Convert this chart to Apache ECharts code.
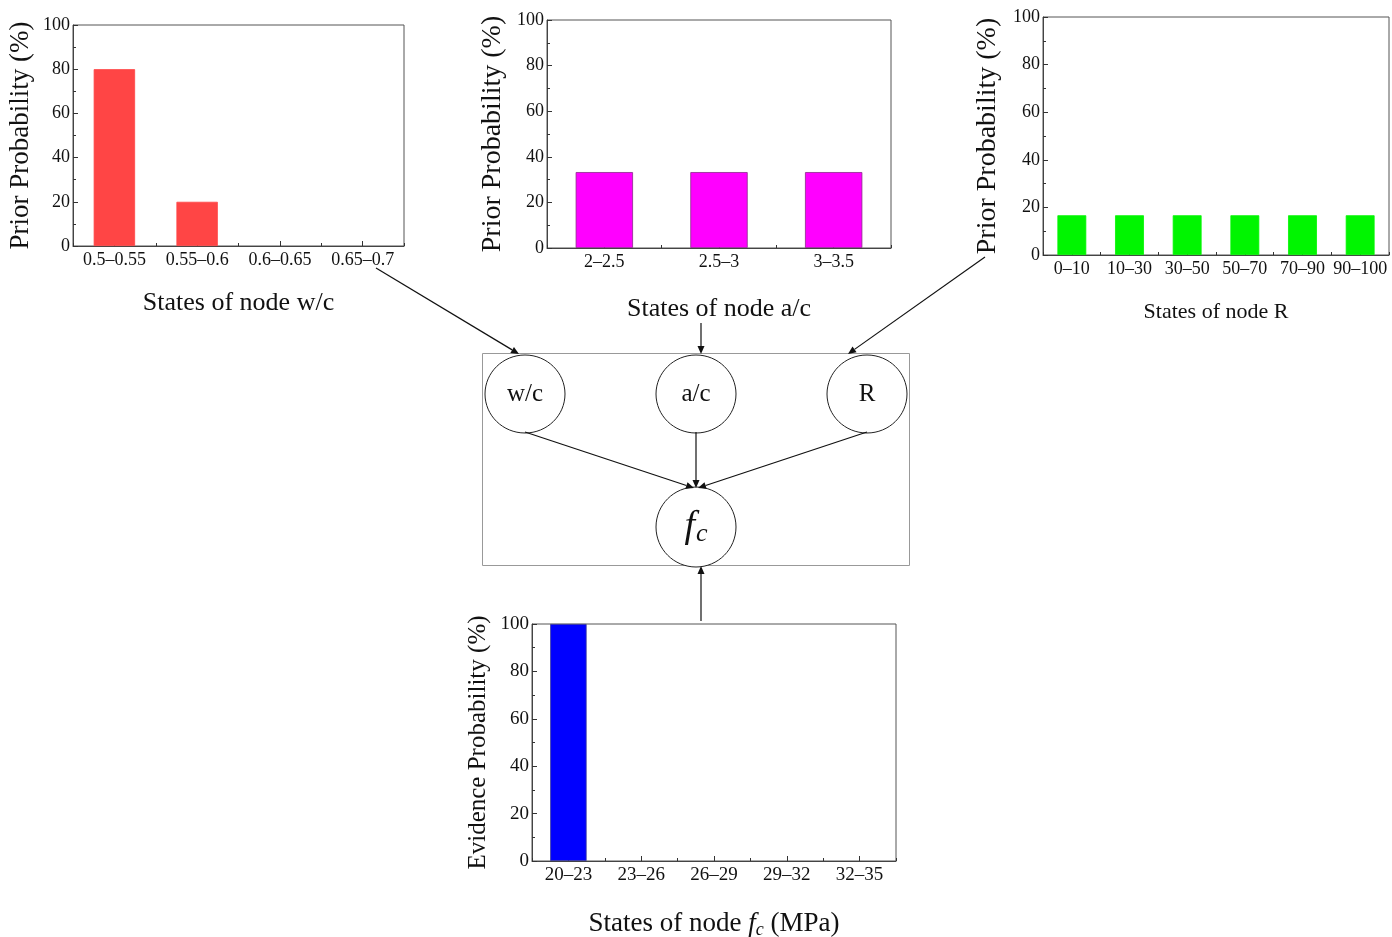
<!DOCTYPE html>
<html>
<head>
<meta charset="utf-8">
<script src="https://cdn.jsdelivr.net/npm/echarts@6/dist/echarts.min.js"></script>
<style>html,body{margin:0;padding:0;background:#fff;}#c{width:1392px;height:937px;}</style>
</head>
<body>
<div id="c"></div>
<script>
// ---- data ----
const wcCategories = ['0.5\u20130.55', '0.55\u20130.6', '0.6\u20130.65', '0.65\u20130.7'];
const wcValues = [80, 20, 0, 0];
const acCategories = ['2\u20132.5', '2.5\u20133', '3\u20133.5'];
const acValues = [33.3, 33.3, 33.3];
const rCategories = ['0\u201310', '10\u201330', '30\u201350', '50\u201370', '70\u201390', '90\u2013100'];
const rValues = [16.7, 16.7, 16.7, 16.7, 16.7, 16.7];
const fcCategories = ['20\u201323', '23\u201326', '26\u201329', '29\u201332', '32\u201335'];
const fcValues = [100, 0, 0, 0, 0];
const yTicks = [0, 20, 40, 60, 80, 100];

const FONT = 'Liberation Serif';
const chart = echarts.init(document.getElementById('c'));

const panels = [
  {cats: wcCategories, vals: wcValues, color: '#FF4545', border: '#FF4545',
   grid: {left: 73, top: 25, width: 331, height: 221},
   yName: 'Prior Probability (%)', yNameSize: 27, yGap: 39,
   xName: 'States of node w/c', xNameSize: 26, xGap: 44, tickSize: 18},
  {cats: acCategories, vals: acValues, color: '#FF00FF', border: '#8a2a8a',
   grid: {left: 547, top: 20, width: 344, height: 228},
   yName: 'Prior Probability (%)', yNameSize: 28, yGap: 40,
   xName: 'States of node a/c', xNameSize: 26, xGap: 48, tickSize: 18},
  {cats: rCategories, vals: rValues, color: '#00F500', border: '#00F500',
   grid: {left: 1043, top: 17, width: 346, height: 238},
   yName: 'Prior Probability (%)', yNameSize: 28, yGap: 41,
   xName: 'States of node R', xNameSize: 22, xGap: 46, tickSize: 18},
  {cats: fcCategories, vals: fcValues, color: '#0000FF', border: '#333399',
   grid: {left: 532, top: 624, width: 364, height: 237},
   yName: 'Evidence Probability (%)', yNameSize: 25, yGap: 41,
   xName: '{a|States of node }{f|f}{s|c}{a| (MPa)}', xNameSize: 27, xGap: 47, tickSize: 19, rich: true}
];

const grids = [], xAxes = [], yAxes = [], series = [];
panels.forEach((p, i) => {
  grids.push(Object.assign({show: true, borderColor: '#555', borderWidth: 1, backgroundColor: 'transparent',
    containLabel: false, outerBoundsMode: 'none'}, p.grid));
  const nameStyle = p.rich ? {
    fontFamily: FONT, fontSize: p.xNameSize, color: '#111',
    rich: {
      a: {fontFamily: FONT, fontSize: p.xNameSize, color: '#111'},
      f: {fontFamily: FONT, fontSize: p.xNameSize, fontStyle: 'italic', color: '#111'},
      s: {fontFamily: FONT, fontSize: 18, fontStyle: 'italic', color: '#111', padding: [13, 0, 0, 0]}
    }
  } : {fontFamily: FONT, fontSize: p.xNameSize, color: '#111'};
  xAxes.push({
    type: 'category', gridIndex: i, data: p.cats, position: 'bottom',
    axisLine: {show: true, lineStyle: {color: '#444', width: 1}},
    axisTick: {show: true, inside: true, length: 5, alignWithLabel: true, lineStyle: {color: '#333'}},
    axisLabel: {fontFamily: FONT, fontSize: p.tickSize, color: '#111', margin: 5, interval: 0},
    name: p.xName, nameLocation: 'middle', nameGap: p.xGap, nameTextStyle: nameStyle,
    splitLine: {show: false}
  });
  xAxes.push({
    type: 'category', gridIndex: i, data: p.cats, position: 'bottom', offset: 0,
    axisLine: {show: false},
    axisTick: {show: true, inside: true, length: 3, lineStyle: {color: '#333'}},
    axisLabel: {show: false}, splitLine: {show: false}
  });
  yAxes.push({
    type: 'value', gridIndex: i, min: 0, max: 100, interval: 20,
    axisLine: {show: true, lineStyle: {color: '#444', width: 1}},
    axisTick: {show: true, inside: true, length: 5, lineStyle: {color: '#333'}},
    minorTick: {show: true, splitNumber: 2, length: 3, lineStyle: {color: '#333'}},
    axisLabel: {fontFamily: FONT, fontSize: p.tickSize, color: '#111', margin: 3,
      formatter: v => (yTicks.indexOf(v) >= 0 ? String(v) : '')},
    splitLine: {show: false},
    name: p.yName, nameLocation: 'middle', nameGap: p.yGap, nameRotate: 90,
    nameTextStyle: {fontFamily: FONT, fontSize: p.yNameSize, color: '#111'}
  });
  series.push({
    type: 'bar', xAxisIndex: i * 2, yAxisIndex: i, barWidth: '50%',
    data: p.vals.map(v => ({
      value: v,
      itemStyle: v > 0 ? {color: p.color, borderColor: p.border, borderWidth: 0.8}
                       : {color: 'transparent', borderWidth: 0}
    })),
    itemStyle: {color: p.color},
    silent: true, animation: false
  });
});

// ---- diagram ----
function arrow(x1, y1, x2, y2) {
  const dx = x2 - x1, dy = y2 - y1, L = Math.hypot(dx, dy);
  const ux = dx / L, uy = dy / L, hl = 8, hw = 3.5;
  const bx = x2 - ux * hl, by = y2 - uy * hl;
  return [
    {type: 'line', shape: {x1, y1, x2: bx, y2: by}, style: {stroke: '#111', lineWidth: 1.2}, silent: true},
    {type: 'polygon', shape: {points: [[x2, y2], [bx - uy * hw, by + ux * hw], [bx + uy * hw, by - ux * hw]]},
     style: {fill: '#111'}, silent: true}
  ];
}
function node(cx, cy, txt) {
  return [
    {type: 'ellipse', shape: {cx, cy, rx: 40, ry: 39}, style: {fill: '#fff', stroke: '#222', lineWidth: 1}, silent: true},
    {type: 'text', x: cx, y: cy, style: {text: txt, fontFamily: FONT, fontSize: 25, fill: '#111', align: 'center', verticalAlign: 'middle'}, silent: true}
  ];
}
const graphic = [
  {type: 'rect', shape: {x: 482.5, y: 353.5, width: 427, height: 212}, style: {fill: 'none', stroke: '#999', lineWidth: 1}, silent: true},
  ...node(525, 394, 'w/c'),
  ...node(696, 394, 'a/c'),
  ...node(867, 394, 'R'),
  {type: 'ellipse', shape: {cx: 696, cy: 527, rx: 40, ry: 40}, style: {fill: '#fff', stroke: '#222', lineWidth: 1}, silent: true},
  {type: 'text', x: 696, y: 527, style: {
    text: '{f|f}{s|c}', align: 'center', verticalAlign: 'middle',
    rich: {
      f: {fontFamily: FONT, fontSize: 38, fontStyle: 'italic', fill: '#111', color: '#111'},
      s: {fontFamily: FONT, fontSize: 26, fontStyle: 'italic', fill: '#111', color: '#111', padding: [14, 0, 0, 1]}
    }}, silent: true},
  ...arrow(525, 432, 694, 488),
  ...arrow(696, 432, 696, 488),
  ...arrow(867, 432, 698, 488),
  ...arrow(376, 268, 519, 354),
  ...arrow(701, 323, 701, 354),
  ...arrow(985, 257, 848, 354),
  ...arrow(701, 621, 701, 566)
];

chart.setOption({
  animation: false,
  backgroundColor: '#fff',
  grid: grids,
  xAxis: xAxes,
  yAxis: yAxes,
  series: series,
  graphic: graphic
});
</script>
</body>
</html>
